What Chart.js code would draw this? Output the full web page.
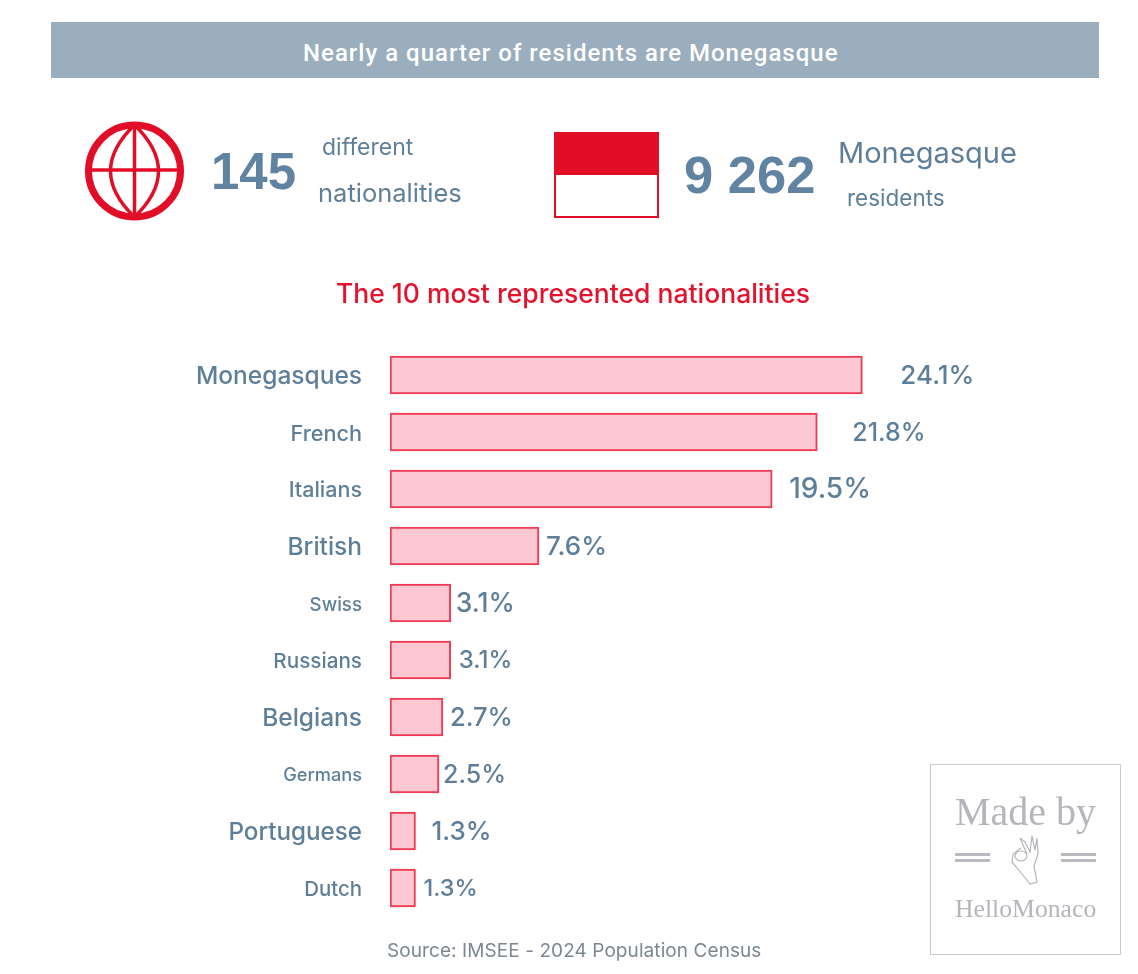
<!DOCTYPE html>
<html>
<head>
<meta charset="utf-8">
<script src="https://cdn.jsdelivr.net/npm/chart.js@4"></script>
<style>
  html, body { margin: 0; padding: 0; background: #fff; }
  body { position: relative; width: 1138px; height: 974px; overflow: hidden; font-family: Inter, sans-serif; color: #5f7f98; }
  #chart { position: absolute; left: 0; top: 0; }
  .txt { position: absolute; white-space: nowrap; line-height: 1; }
  .banner { position: absolute; left: 51px; top: 22px; width: 1048px; height: 56px; background: #9aaebd; }
  .big { font-family: "Liberation Sans", sans-serif; font-weight: 700; color: #5f83a0; }
  .flag { position: absolute; left: 554px; top: 132px; width: 101px; height: 82px; border: 2px solid #e20e27; background: linear-gradient(#e20e27 0 41px, #fff 41px); }
  .stamp { position: absolute; left: 930px; top: 764px; width: 189px; height: 189px; border: 1px solid #c9cbce; }
  .rule { position: absolute; width: 35px; height: 3px; background: #b9bbc0; }
  svg { position: absolute; }
</style>
</head>
<body>
<canvas id="chart" width="1138" height="974"></canvas>

<div class="banner"></div>
<div class="txt" style="left:303px;top:41px;font-size:24px;color:#fff;font-family:Roboto,sans-serif;font-weight:500;letter-spacing:1px">Nearly a quarter of residents are Monegasque</div>

<svg style="left:80px;top:116px" width="110" height="110" viewBox="0 0 110 110" fill="none" stroke="#e20e27">
  <circle cx="54.5" cy="55" r="46" stroke-width="7"/>
  <path d="M54.5 9 Q6.5 55 54.5 101 Q102.5 55 54.5 9" stroke-width="3.5"/>
  <line x1="54.5" y1="9" x2="54.5" y2="101" stroke-width="3.5"/>
  <line x1="8.5" y1="54" x2="100.5" y2="54" stroke-width="3.5"/>
</svg>
<div class="txt big" style="left:211px;top:146px;font-size:51px">145</div>
<div class="txt" style="left:322px;top:136px;font-size:23px">different</div>
<div class="txt" style="left:318px;top:180px;font-size:25.5px">nationalities</div>

<div class="flag"></div>
<div class="txt big" style="left:684px;top:149px;font-size:52.5px">9 262</div>
<div class="txt" style="left:838px;top:138px;font-size:29px">Monegasque</div>
<div class="txt" style="left:847px;top:187px;font-size:22.5px">residents</div>

<div class="txt" style="left:336px;top:280px;font-size:26.5px;font-weight:500;color:#e4132d">The 10 most represented nationalities</div>
<div class="txt" style="left:387px;top:941px;font-size:19px;letter-spacing:.08px;color:#7d8791">Source: IMSEE - 2024 Population Census</div>

<div class="stamp"></div>
<div class="txt" style="left:955px;top:792px;font-size:40px;font-family:'Liberation Serif',serif;color:#b4b6bb">Made by</div>
<div class="rule" style="left:955px;top:853px"></div>
<div class="rule" style="left:955px;top:859px"></div>
<div class="rule" style="left:1061px;top:853px"></div>
<div class="rule" style="left:1061px;top:859px"></div>
<svg style="left:1008px;top:832px" width="36" height="54" viewBox="0 0 36 54" fill="none" stroke="#b4b6bb" stroke-width="1.2">
  <ellipse cx="13" cy="24" rx="6" ry="5"/>
  <path d="M19 22 L12 6 L17 10 L22 20 L24 4 L27 18 L29 6 L30 22 L26 34 L29 50 L22 52 L14 42 L4 30 L5 22 L13 16"/>
</svg>
<div class="txt" style="left:955px;top:896px;font-size:25.7px;font-family:'Liberation Serif',serif;color:#b4b6bb">HelloMonaco</div>

<script>
const categories = ["Monegasques", "French", "Italians", "British", "Swiss", "Russians", "Belgians", "Germans", "Portuguese", "Dutch"]
const shares = [24.1, 21.8, 19.5, 7.6, 3.1, 3.1, 2.7, 2.5, 1.3, 1.3]

// the source picture sizes every label by hand
const categoryFontSizes = [24.5, 21.7, 21.5, 24.5, 18.7, 20.7, 24.5, 18.2, 24.2, 20.4]
const shareFontSizes = [26, 25, 28, 26, 26.5, 24, 25.5, 25, 26, 23.5]
const shareGaps = [38, 35, 17, 7, 5, 8, 7, 4, 16, 8]

const textColor = "#5f7f98"

const shareLabels = {
  id: "shareLabels",
  afterDatasetsDraw(chart) {
    const { ctx } = chart
    const meta = chart.getDatasetMeta(0)

    ctx.save()
    ctx.fillStyle = textColor
    ctx.textBaseline = "middle"

    meta.data.forEach((bar, index) => {
      ctx.font = `500 ${shareFontSizes[index]}px Inter, sans-serif`
      ctx.fillText(`${shares[index]}%`, bar.x + shareGaps[index], bar.y + 1)
    })

    ctx.restore()
  },
}

new Chart(document.getElementById("chart"), {
  type: "bar",
  data: {
    labels: categories,
    datasets: [
      {
        data: shares,
        backgroundColor: "#fec8d2",
        borderColor: "#ee3a55",
        borderWidth: 2,
        borderSkipped: false,
        barThickness: 38,
      },
    ],
  },
  options: {
    indexAxis: "y",
    responsive: false,
    animation: false,
    layout: {
      padding: { top: 346.5, bottom: 57.5, left: 0, right: 160 },
    },
    scales: {
      x: {
        display: false,
        min: 0,
        max: 30,
      },
      y: {
        afterFit: (scale) => {
          scale.width = 390
        },
        border: { display: false },
        grid: { display: false },
        ticks: {
          color: textColor,
          padding: 20,
          labelOffset: 2,
          font: (context) => ({ family: "Inter, sans-serif", weight: "500", size: categoryFontSizes[context.index] }),
        },
      },
    },
    plugins: {
      legend: { display: false },
      tooltip: { enabled: false },
    },
  },
  plugins: [shareLabels],
})
</script>
</body>
</html>
